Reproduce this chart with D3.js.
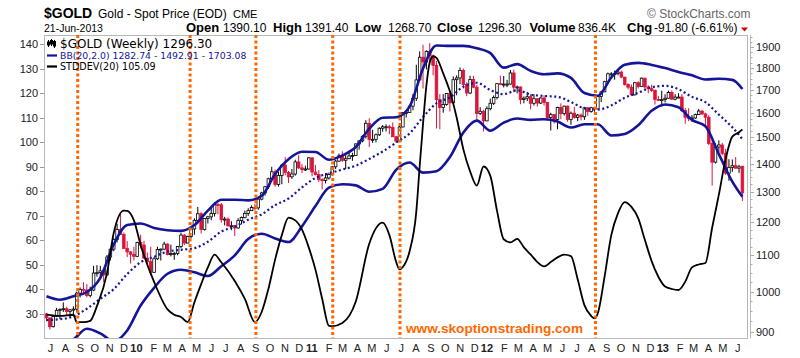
<!DOCTYPE html>
<html>
<head>
<meta charset="utf-8">
<script src="https://cdn.jsdelivr.net/npm/d3@7"></script>
<style>
  body { margin: 0; background: #fff; }
  svg { display: block; font-family: "Liberation Sans", Arial, sans-serif; }
</style>
</head>
<body>
<div id="chart"></div>
<script>
const width = 800, height = 358;
const plot = { left: 44, right: 747, top: 35, bottom: 338 };

// weekly candles, Fri 3-Jul-2009 .. Fri 21-Jun-2013
const opens = [
  943,933,912,937,952,954,956,949,953,955, 996,1006,1004,990,1004,1050,1051,1056,1045,1095,
  1118,1147,1177,1162,1120,1110,1103,1097,1138,1130, 1092,1082,1052,1090,1117,1118,1133,1102,1105,1105,
  1126,1160,1136,1156,1179,1206,1227,1177,1212,1217, 1228,1257,1256,1208,1210,1188,1189,1182,1205,1215,
  1228,1237,1247,1246,1275,1296,1317,1345,1370,1325, 1357,1394,1368,1352,1362,1406,1384,1378,1380,1421,
  1369,1360,1342,1339,1348,1360,1388,1409,1429,1412, 1418,1428,1430,1474,1486,1504,1556,1491,1492,1510,
  1536,1542,1542,1539,1502,1485,1541,1601,1601,1628, 1662,1744,1851,1828,1880,1857,1812,1656,1622,1635,
  1683,1642,1745,1753,1788,1723,1685,1746,1711,1597, 1606,1566,1617,1640,1665,1727,1725,1725,1725,1776,
  1711,1712,1657,1662,1669,1640,1660,1641,1663,1644, 1580,1592,1572,1622,1596,1628,1572,1598,1580,1590,
  1583,1621,1605,1621,1616,1670,1690,1736,1772,1772, 1773,1780,1757,1723,1711,1677,1731,1714,1752,1712,
  1704,1697,1657,1656,1656,1662,1687,1658,1667,1667, 1609,1581,1576,1578,1592,1607,1595,1581,1476,1405,
  1462,1470,1438,1365,1386,1392,1383,1390.1
];
const highs = [
  945,935,940,958,957,972,961,955,962,1000, 1011,1025,1020,1013,1070,1072,1070,1062,1101,1120,
  1150,1195,1226,1168,1142,1112,1125,1140,1161,1143, 1108,1125,1095,1125,1120,1140,1135,1131,1110,1126,
  1167,1163,1158,1180,1212,1249,1232,1213,1220,1251, 1265,1262,1262,1217,1215,1203,1190,1213,1218,1237,
  1245,1254,1260,1283,1300,1320,1349,1388,1378,1370, 1398,1424,1373,1380,1414,1431,1398,1392,1424,1423,
  1395,1376,1347,1365,1367,1390,1413,1437,1446,1434, 1448,1440,1476,1487,1508,1569,1577,1530,1515,1540,
  1549,1552,1550,1560,1505,1545,1602,1610,1632,1680, 1815,1880,1913,1885,1921,1864,1833,1680,1680,1685,
  1697,1760,1765,1802,1797,1733,1763,1763,1722,1623, 1612,1627,1660,1674,1730,1764,1762,1744,1790,1792,
  1718,1714,1670,1690,1680,1680,1662,1667,1675,1645, 1600,1595,1625,1640,1630,1630,1605,1625,1595,1597,
  1625,1622,1625,1622,1675,1695,1740,1778,1780,1787, 1796,1787,1758,1729,1723,1735,1738,1755,1754,1720,
  1722,1700,1672,1695,1679,1695,1696,1680,1684,1680, 1620,1619,1590,1596,1616,1611,1600,1590,1488,1476,
  1488,1478,1455,1416,1415,1424,1395,1391.4
];
const lows = [
  925,905,910,935,930,948,940,933,937,948, 985,997,985,985,1001,1040,1040,1025,1042,1085,
  1112,1138,1162,1120,1095,1077,1085,1095,1120,1090, 1073,1044,1050,1087,1085,1115,1100,1097,1087,1100,
  1121,1130,1135,1150,1161,1195,1165,1174,1196,1206, 1218,1225,1199,1190,1188,1175,1157,1180,1193,1212,
  1220,1236,1237,1240,1271,1287,1310,1342,1317,1318, 1326,1357,1330,1345,1356,1380,1365,1373,1378,1354,
  1357,1334,1308,1329,1342,1356,1380,1406,1406,1380, 1416,1410,1428,1452,1480,1495,1462,1478,1480,1505,
  1522,1523,1512,1501,1478,1482,1540,1580,1600,1610, 1650,1740,1705,1793,1815,1765,1535,1532,1600,1630,
  1605,1640,1675,1725,1705,1671,1680,1706,1565,1590, 1523,1565,1610,1633,1657,1724,1710,1711,1722,1688,
  1683,1636,1640,1650,1614,1630,1626,1637,1630,1575, 1527,1555,1532,1573,1588,1562,1550,1575,1565,1568,
  1570,1587,1600,1597,1615,1645,1690,1728,1754,1745, 1765,1752,1718,1701,1673,1674,1705,1712,1705,1684,
  1690,1635,1650,1626,1644,1660,1656,1653,1664,1603, 1554,1565,1562,1575,1591,1590,1539,1470,1321,1400,
  1443,1431,1359,1338,1370,1381,1366,1268.7
];
const closes = [
  933,912,937,952,954,956,949,953,955,996, 1006,1004,990,1004,1050,1051,1056,1045,1095,1118,
  1147,1177,1162,1120,1110,1103,1097,1138,1130,1092, 1082,1052,1090,1117,1118,1133,1102,1105,1105,1126,
  1160,1136,1156,1179,1206,1227,1177,1212,1217,1228, 1257,1256,1208,1210,1188,1189,1182,1205,1215,1228,
  1237,1247,1246,1275,1296,1317,1345,1370,1325,1357, 1394,1368,1352,1362,1406,1384,1378,1380,1421,1369,
  1360,1342,1339,1348,1360,1388,1409,1429,1412,1418, 1428,1430,1474,1486,1504,1556,1491,1492,1510,1536,
  1542,1542,1539,1502,1485,1541,1601,1601,1628,1662, 1744,1851,1828,1880,1857,1812,1656,1622,1635,1683,
  1642,1745,1753,1788,1723,1685,1746,1711,1597,1606, 1566,1617,1640,1665,1727,1725,1725,1725,1776,1711,
  1712,1657,1662,1669,1640,1660,1641,1663,1644,1580, 1592,1572,1622,1596,1628,1572,1598,1580,1590,1583,
  1621,1605,1621,1616,1670,1690,1736,1772,1772,1773, 1780,1757,1723,1711,1677,1731,1714,1752,1712,1704,
  1697,1657,1656,1656,1662,1687,1658,1667,1667,1609, 1581,1576,1578,1592,1607,1595,1581,1476,1405,1462,
  1470,1438,1365,1386,1392,1383,1388,1296.3
];

// Bollinger bands (20,2) read every 4th week
const bandIdx = [0,4,8,12,16,20,24,28,32,36,40,44,48,52,56,60,64,68,72,76,80,84,88,92,96,100,104,
  108,112,116,120,124,128,132,136,140,144,148,152,156,160,164,168,172,176,180,184,188,192,196,200,204,207];
const bbUpper = [988,979,988,999,1037,1132,1191,1196,1182,1175,1173,1191,1237,1273,1273,1271,1286,1362,
  1416,1444,1443,1414,1430,1462,1534,1579,1581,1626,1797,1909,1907,1907,1895,1871,1801,1818,1786,1770,
  1774,1753,1685,1673,1755,1815,1824,1814,1799,1781,1765,1746,1749,1744,1703.08];
const bbMid = [928,930,937,956,981,1006.5,1047,1080,1096,1111,1116,1121,1140,1171,1186,1208,1225,1255,
  1277,1315,1348,1364,1378,1392,1417,1445,1479,1515,1582,1640,1666,1713,1731,1698,1680,1697,1678,1672,
  1668,1646,1618.5,1613,1631,1664,1686,1711,1717,1702,1668,1645,1592,1540,1492.91];
const bbLower = [862,870,882,907,896,878,903,964,1010,1048,1059,1052,1042,1069,1100,1148,1164,1150,
  1139,1187,1252,1314,1326,1322,1300,1310,1377,1404,1367,1372,1424,1519,1567,1526,1559,1576,1570,1573,
  1563,1539,1552,1552,1507,1513,1548,1608,1635,1623,1570,1544,1435,1335,1282.74];

// STDDEV(20), left scale
const stdIdx = [0,4,8,9,11,13,15,18,20,23,24,26,28,32,36,38,40,42,44,46,48,50,52,56,59,62,64,66,68,70,
  72,74,76,78,80,82,84,85,88,92,96,100,102,104,105,106,108,110,111,112,113,114,115,116,118,120,122,124,
  126,128,130,132,134,136,138,140,142,144,146,148,150,152,154,156,158,160,162,163,164,166,168,170,172,
  174,176,178,180,182,184,186,188,190,192,194,196,198,200,202,204,206,207];
const stdVal = [29.5,29,29.5,26.5,26.5,27,33,46.5,62.9,72,71.9,68,58,42.9,31.7,29.5,28.6,26.5,34.6,42,
  48.8,54,50.9,43.3,36,26.5,30.6,40,52,62,69.1,68,64.2,57,47.9,36,25,24.8,26.1,34.9,58.5,67.1,62,51.1,
  48,49,55.4,71.6,90,107.4,123,132.6,135,134.3,128,120.6,110,97,88,82.2,90,86.3,72,60.3,59,60.5,57,54.1,
  51,49.2,51,52.9,54,53.4,44,33.4,29,28,30.1,45,62,71,75.5,73.5,68.9,60,51.4,45,41,40,39.6,43,48.8,50,
  50.6,65,78.5,93,102.2,104,105.09];

const stdLows = ["2009-09-06","2010-04-28","2010-09-12","2011-02-19","2011-07-09","2012-08-19"];

const monthLabels = ["J","A","S","O","N","D",
  "10","F","M","A","M","J","J","A","S","O","N","D",
  "11","F","M","A","M","J","J","A","S","O","N","D",
  "12","F","M","A","M","J","J","A","S","O","N","D",
  "13","F","M","A","M","J"];
const stdTicks = [30,40,50,60,70,80,90,100,110,120,130,140];
const priceTicks = [900,1000,1100,1200,1300,1400,1500,1600,1700,1800,1900];

const weeks = d3.timeFriday.range(new Date(2009, 6, 3), new Date(2013, 5, 22));
const months = d3.timeMonth.range(new Date(2009, 6, 1), new Date(2013, 6, 1));
const parseDay = d3.timeParse("%Y-%m-%d");

const x = d3.scaleTime().domain([weeks[0], weeks[weeks.length - 1]]).range([46.5, 742.4]);
const yPrice = d3.scaleLog().domain([900, 1900]).range([331.7, 47.3]);
const yStd = d3.scaleLinear().domain([30, 140]).range([313.5, 44]);

const bandBlue = "#15159a";
const red = "#dc143c";
const orange = "#ff6600";

const svg = d3.select("#chart").append("svg")
  .attr("width", width).attr("height", height);

svg.append("defs").append("clipPath").attr("id", "clip")
  .append("rect")
  .attr("x", plot.left).attr("y", plot.top)
  .attr("width", plot.right - plot.left).attr("height", plot.bottom - plot.top);

// frame
svg.append("rect")
  .attr("x", plot.left + 0.5).attr("y", plot.top + 0.5)
  .attr("width", plot.right - plot.left).attr("height", plot.bottom - plot.top)
  .attr("fill", "#fff").attr("stroke", "#b8b8b8");

const g = svg.append("g").attr("clip-path", "url(#clip)");

// candles
const candles = g.append("g").selectAll("g")
  .data(d3.range(Math.min(weeks.length, closes.length)))
  .enter().append("g");

candles.append("line")
  .attr("x1", i => x(weeks[i])).attr("x2", i => x(weeks[i]))
  .attr("y1", i => yPrice(highs[i])).attr("y2", i => yPrice(lows[i]))
  .attr("stroke", i => closes[i] < opens[i] ? red : "#000")
  .attr("stroke-width", 1);

candles.append("rect")
  .attr("x", i => x(weeks[i]) - 1.3)
  .attr("width", 2.6)
  .attr("y", i => yPrice(Math.max(opens[i], closes[i])))
  .attr("height", i => Math.max(1, yPrice(Math.min(opens[i], closes[i])) - yPrice(Math.max(opens[i], closes[i]))))
  .attr("fill", i => closes[i] < opens[i] ? red : "#fff")
  .attr("stroke", i => closes[i] < opens[i] ? red : "#000")
  .attr("stroke-width", 0.8);

// bands
const bandLine = d3.line()
  .x(d => x(weeks[d[0]]))
  .y(d => yPrice(d[1]))
  .curve(d3.curveMonotoneX);

[bbUpper, bbLower].forEach(vals => {
  g.append("path")
    .attr("d", bandLine(bandIdx.map((w, i) => [w, vals[i]])))
    .attr("fill", "none").attr("stroke", bandBlue).attr("stroke-width", 2.6)
    .attr("stroke-linejoin", "round");
});

g.append("path")
  .attr("d", bandLine(bandIdx.map((w, i) => [w, bbMid[i]])))
  .attr("fill", "none").attr("stroke", bandBlue).attr("stroke-width", 2.2)
  .attr("stroke-dasharray", "2,2.6");

// std dev
const stdLine = d3.line()
  .x(d => x(weeks[d[0]]))
  .y(d => yStd(d[1]))
  .curve(d3.curveMonotoneX);

g.append("path")
  .attr("d", stdLine(stdIdx.map((w, i) => [w, stdVal[i]])))
  .attr("fill", "none").attr("stroke", "#000").attr("stroke-width", 1.8)
  .attr("stroke-linejoin", "round");

// orange markers
g.selectAll(".mark").data(stdLows).enter().append("line")
  .attr("x1", d => x(parseDay(d))).attr("x2", d => x(parseDay(d)))
  .attr("y1", plot.top).attr("y2", plot.bottom)
  .attr("stroke", orange).attr("stroke-width", 3)
  .attr("stroke-dasharray", "3,2.5");

// watermark
svg.append("text")
  .attr("x", 406).attr("y", 333)
  .attr("fill", orange).attr("font-weight", "bold").attr("font-size", "13.6px")
  .text("www.skoptionstrading.com");

// left axis
const leftAxis = svg.append("g");
leftAxis.selectAll("line").data(stdTicks).enter().append("line")
  .attr("x1", 40).attr("x2", plot.left)
  .attr("y1", d => Math.round(yStd(d)) + 0.5).attr("y2", d => Math.round(yStd(d)) + 0.5)
  .attr("stroke", "#999");
leftAxis.selectAll("text").data(stdTicks).enter().append("text")
  .attr("x", 38).attr("y", d => yStd(d) + 4)
  .attr("text-anchor", "end").attr("font-size", "11px").attr("fill", "#222")
  .text(d => d);

// right axis
const rightAxis = svg.append("g");
rightAxis.append("line")
  .attr("x1", 750.5).attr("x2", 750.5).attr("y1", plot.top).attr("y2", plot.bottom + 0.5)
  .attr("stroke", "#bbb");
rightAxis.selectAll(".minor").data(d3.range(900, 1951, 25)).enter().append("line")
  .attr("x1", 750.5).attr("x2", d => d % 100 === 0 ? 754 : 752.5)
  .attr("y1", d => Math.round(yPrice(d)) + 0.5).attr("y2", d => Math.round(yPrice(d)) + 0.5)
  .attr("stroke", "#aaa");
rightAxis.selectAll("text").data(priceTicks).enter().append("text")
  .attr("x", 756).attr("y", d => yPrice(d) + 4)
  .attr("font-size", "11px").attr("fill", "#222")
  .text(d => d);

// bottom month labels
svg.append("g").selectAll("text").data(months).enter().append("text")
  .attr("x", (d, i) => x(d) + (/\d/.test(monthLabels[i]) ? 2.5 : 5))
  .attr("y", 351.5)
  .attr("text-anchor", "middle")
  .attr("font-size", "11px")
  .attr("font-weight", (d, i) => /\d/.test(monthLabels[i]) ? "bold" : "normal")
  .attr("fill", "#222")
  .text((d, i) => monthLabels[i]);

// legend inside plot
const legend = svg.append("g").attr("font-family", "'DejaVu Sans', Verdana, sans-serif");
const icon = legend.append("g").attr("stroke", "#000").attr("stroke-width", 1);
[[48.5, 40, 47, 42, 45], [51.5, 39, 46, 40.5, 44], [54.5, 40, 48, 41.5, 46]].forEach(c => {
  icon.append("line").attr("x1", c[0]).attr("x2", c[0]).attr("y1", c[1]).attr("y2", c[2]);
  icon.append("rect").attr("x", c[0] - 1).attr("y", c[3]).attr("width", 2).attr("height", c[4] - c[3])
    .attr("fill", "#000");
});
legend.append("text").attr("x", 60).attr("y", 48)
  .attr("font-size", "12px").attr("fill", "#000")
  .text("$GOLD (Weekly) 1296.30");
legend.append("line").attr("x1", 47).attr("x2", 57).attr("y1", 55.5).attr("y2", 55.5)
  .attr("stroke", bandBlue).attr("stroke-width", 2.2);
legend.append("text").attr("x", 60).attr("y", 58.8)
  .attr("font-size", "9.3px").attr("fill", bandBlue)
  .text("BB(20,2.0) 1282.74 - 1492.91 - 1703.08");
legend.append("line").attr("x1", 47).attr("x2", 57).attr("y1", 66.5).attr("y2", 66.5)
  .attr("stroke", "#000").attr("stroke-width", 2.2);
legend.append("text").attr("x", 60).attr("y", 70)
  .attr("font-size", "9.6px").attr("fill", "#000")
  .text("STDDEV(20) 105.09");

// header
svg.append("text").attr("x", 44).attr("y", 18.3)
  .attr("font-size", "14px").attr("font-weight", "bold").text("$GOLD");
svg.append("text").attr("x", 98).attr("y", 18.3)
  .attr("font-size", "12px").text("Gold - Spot Price (EOD)");
svg.append("text").attr("x", 233).attr("y", 18.3)
  .attr("font-size", "11px").text("CME");
svg.append("text").attr("x", 44).attr("y", 31.5)
  .attr("font-size", "10.5px").text("21-Jun-2013");

const quote = [
  ["Open", 186, true], ["1390.10", 223, false],
  ["High", 273, true], ["1391.40", 305, false],
  ["Low", 355, true], ["1268.70", 388, false],
  ["Close", 437, true], ["1296.30", 478, false],
  ["Volume", 529.5, true], ["836.4K", 578, false],
  ["Chg", 627, true], ["-91.80 (-6.61%)", 654, false]
];
svg.append("g").selectAll("text").data(quote).enter().append("text")
  .attr("x", d => d[1]).attr("y", 32)
  .attr("font-size", d => d[2] ? "13px" : "12px")
  .attr("font-weight", d => d[2] ? "bold" : "normal")
  .text(d => d[0]);
svg.append("path").attr("d", "M741,27.5 L748,27.5 L744.5,31.5 Z").attr("fill", "#c00");

svg.append("text").attr("x", 647).attr("y", 18.3)
  .attr("font-size", "12px").attr("fill", "#666")
  .text("\u00a9 StockCharts.com");
</script>
</body>
</html>
